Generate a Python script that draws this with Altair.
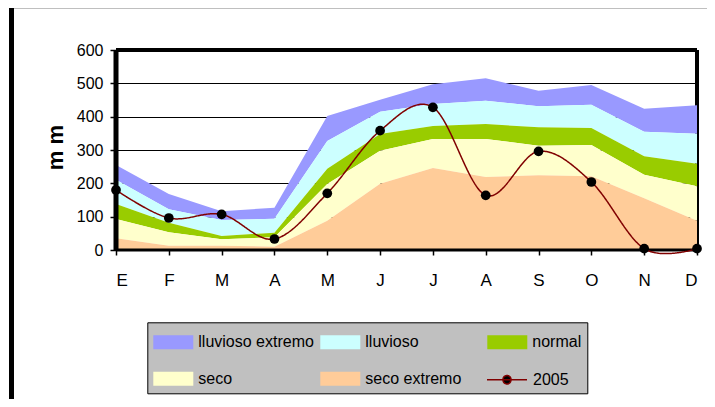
import altair as alt
import pandas as pd

# ---- data ----
months = ["E", "F", "M", "A", "M", "J", "J", "A", "S", "O", "N", "D"]
lluvioso_extremo = [255, 168, 116, 127, 402, 451, 497, 515, 478, 495, 424, 434]
lluvioso = [211, 122, 90, 94, 327, 415, 438, 448, 431, 436, 355, 349]
normal = [138, 82, 42, 52, 244, 348, 372, 378, 368, 366, 281, 259]
seco = [93, 53, 32, 38, 198, 298, 333, 333, 313, 315, 226, 191]
seco_extremo = [35, 13, 13, 10, 88, 199, 246, 219, 224, 221, 155, 88]
y2005 = [180, 96, 107, 33, 170, 358, 428, 164, 296, 204, 4, 4]

bands = ["lluvioso extremo", "lluvioso", "normal", "seco", "seco extremo"]
band_colors = ["#9999FF", "#CCFFFF", "#99CC00", "#FFFFCC", "#FFCC99"]
line_name = "2005"
line_color = "#800000"
y_ticks = [0, 100, 200, 300, 400, 500, 600]

# ---- tables ----
tops = [lluvioso_extremo, lluvioso, normal, seco, seco_extremo]
rows = []
for b, name in enumerate(bands):
    lower = tops[b + 1] if b + 1 < len(tops) else [0] * len(months)
    for i in range(len(months)):
        rows.append({"mes": i + 1, "serie": name, "arriba": tops[b][i], "abajo": lower[i]})
area_df = pd.DataFrame(rows)
line_df = pd.DataFrame({"mes": list(range(1, len(months) + 1)), "mm": y2005,
                        "serie": [line_name] * len(months)})
one = pd.DataFrame({"k": [0]})

FONT = "Liberation Sans"
label_expr = "[" + ",".join("'%s'" % m for m in months) + "][datum.value - 1]"

xs = alt.Scale(domain=[1, len(months)], nice=False, zero=False)
ys = alt.Scale(domain=[0, 600], nice=False)

x_axis = alt.Axis(values=list(range(1, len(months) + 1)), labelExpr=label_expr,
                  grid=False, domain=False, tickSize=5, tickColor="black", tickWidth=1.5,
                  labelFontSize=17, labelBaseline="alphabetic", labelPadding=30.5,
                  labelColor="black", labelFont=FONT, title=None)
y_axis = alt.Axis(values=y_ticks, tickCount=7, labelOverlap=False,
                  grid=True, gridColor="black", gridWidth=1,
                  domain=False, tickSize=6, tickColor="black", tickWidth=1.5,
                  labelFontSize=16, labelPadding=7, labelColor="black", labelFont=FONT,
                  title="m m", titleFontSize=22, titleFontWeight="bold", titleFont=FONT,
                  titleColor="black", titleX=-61, titleY=97, titleAngle=270,
                  titleAlign="center", titleBaseline="middle")

# legend symbols: unit = sqrt(784)/2 = 14 px; drawn 40 x 14 px starting at the entry's left
RECT_PATH = "M-1,-0.5L1.857,-0.5L1.857,0.5L-1,0.5Z"
LINE_PATH = "M-1,0L1.857,0M0.714,0A0.286,0.286,0,1,1,0.143,0A0.286,0.286,0,1,1,0.714,0Z"

band_legend = alt.Legend(
    orient="none", legendX=31.3, legendY=272.3, columns=3, direction="horizontal",
    gridAlign="all", columnPadding=6, rowPadding=14.4, padding=6, title=None,
    fillColor="#C0C0C0", strokeColor="black",
    symbolType=RECT_PATH, symbolSize=784, symbolStrokeWidth=0, symbolOpacity=1,
    labelFontSize=16, labelFont=FONT, labelColor="black", labelOffset=17, labelLimit=300,
)
line_legend = alt.Legend(
    orient="none", legendX=370, legendY=314.7, padding=0, title=None,
    symbolType=LINE_PATH, symbolSize=784, symbolFillColor="black",
    symbolStrokeColor=line_color, symbolStrokeWidth=1.5, symbolOpacity=1,
    labelFontSize=16, labelFont=FONT, labelColor="black", labelOffset=17, labelLimit=300,
)
cs = alt.Scale(domain=bands, range=band_colors)

outer = alt.Chart(one).mark_rect(fillOpacity=0, stroke="black", strokeWidth=5).encode(
    x=alt.value(-104.5), x2=alt.value(700), y=alt.value(-44.2), y2=alt.value(400))
right_border = alt.Chart(one).mark_rule(color="black", strokeWidth=4).encode(
    x=alt.datum(len(months), scale=xs), y=alt.datum(0, scale=ys), y2=alt.datum(600))
areas = alt.Chart(area_df).mark_area(opacity=1).encode(
    x=alt.X("mes:Q", scale=xs, axis=x_axis),
    y=alt.Y("arriba:Q", scale=ys, axis=y_axis, stack=None),
    y2="abajo:Q",
    color=alt.Color("serie:N", scale=cs, legend=band_legend),
)
left_border = alt.Chart(one).mark_rule(color="black", strokeWidth=5).encode(
    x=alt.datum(1), y=alt.datum(0), y2=alt.datum(600))
bottom_border = alt.Chart(one).mark_rule(color="black", strokeWidth=3).encode(
    y=alt.datum(0))
top_border = alt.Chart(one).mark_rule(color="black", strokeWidth=4).encode(
    y=alt.datum(600))
line = alt.Chart(line_df).mark_line(interpolate="cardinal", strokeWidth=1.5,
                                    color=line_color).encode(
    x=alt.X("mes:Q", axis=x_axis), y=alt.Y("mm:Q", axis=y_axis),
    strokeDash=alt.StrokeDash("serie:N", scale=alt.Scale(domain=[line_name], range=[[1, 0]]),
                              legend=line_legend))
points = alt.Chart(line_df).mark_point(filled=True, size=95, opacity=1).encode(
    x=alt.X("mes:Q", axis=x_axis), y=alt.Y("mm:Q", axis=y_axis),
    color=alt.value("black"))

chart = alt.layer(outer, right_border, areas, left_border, bottom_border, top_border,
                  line, points).resolve_legend(color="independent", strokeDash="independent").properties(
    width=581, height=200,
    padding={"left": 108, "top": 42, "right": 10, "bottom": 149},
    autosize=alt.AutoSizeParams(type="none"),
    background="white",
).configure_view(stroke=None)

chart.save("out.html", embed_options={"renderer": "svg", "actions": False})
